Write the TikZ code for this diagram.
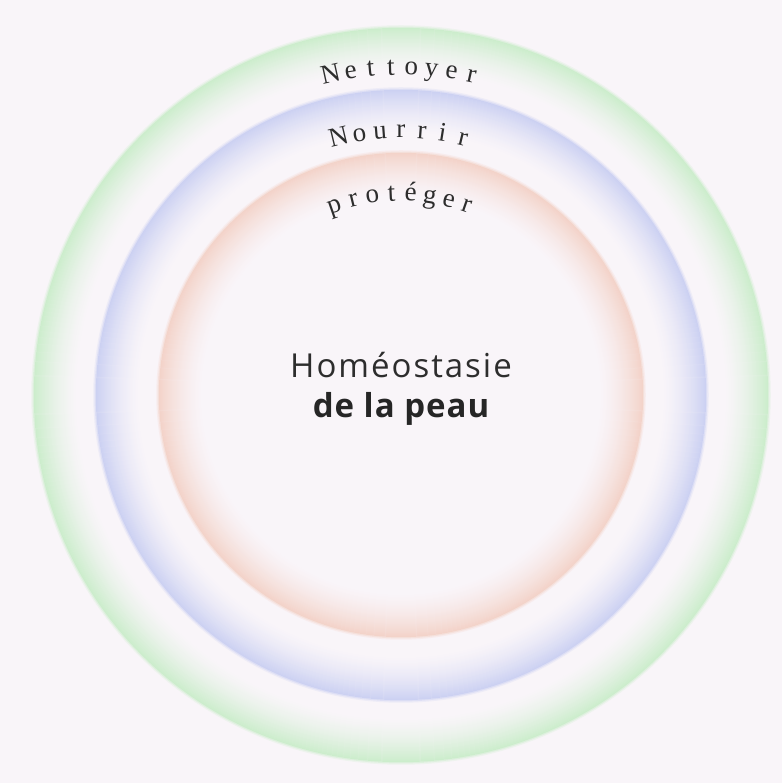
\documentclass[tikz,border=0pt]{standalone}
\usepackage{fontspec}
\setmainfont{Open Sans}
\newfontfamily\arcfont{Liberation Serif}
\usetikzlibrary{calc}
\definecolor{bg}{RGB}{249,245,249}
\definecolor{ringgreen}{RGB}{204,237,204}
\definecolor{ringblue}{RGB}{204,209,242}
\definecolor{ringred}{RGB}{243,211,201}
\definecolor{txt}{RGB}{45,45,45}
\begin{document}
\begin{tikzpicture}[x=1pt,y=1pt,
  arcletter/.style={inner sep=0pt, anchor=base, text=txt, font=\arcfont\fontsize{27}{30}\selectfont},
  maintext/.style={inner sep=0pt, anchor=base, text=txt, font=\addfontfeatures{LetterSpace=6}\fontsize{33}{38}\selectfont},
  boldtext/.style={inner sep=0pt, anchor=base, text=black!85, font=\bfseries\addfontfeatures{LetterSpace=3}\fontsize{33}{38}\selectfont}]
\fill[bg] (0,0) rectangle (782,783);
\useasboundingbox (0,0) rectangle (782,783);
\coordinate (c) at (401,388);
% soft gradient rings: colour at the outer edge, fading inward
\foreach \R/\col in {367/ringgreen, 305/ringblue, 242/ringred} {
  \fill[bg] (c) circle[radius=\R+3];
  \draw[\col!25!bg, line width=1.5pt] (c) circle[radius=\R+2];
  \draw[\col!60!bg, line width=1.5pt] (c) circle[radius=\R+0.7];
  \foreach \k in {0,...,44} {
    \pgfmathtruncatemacro\p{100*(1-\k/45)^1.5}
    \draw[\col!\p!bg, line width=1.4pt] (c) circle[radius=\R-0.5-\k];
  }
}
% curved labels
\foreach \ch [count=\i] in {N,e,t,t,o,y,e,r} {
  \pgfmathsetmacro\ang{12.4-(\i-1)*3.55}
  \node[arcletter, rotate=\ang] (net\i) at ($(c)+(90+\ang:320)$) {\ch};
}
\foreach \ch [count=\i] in {N,o,u,r,r,i,r} {
  \pgfmathsetmacro\ang{13.6-(\i-1)*4.53}
  \node[arcletter, rotate=\ang] (nou\i) at ($(c)+(90+\ang:257)$) {\ch};
}
\foreach \ch [count=\i] in {p,r,o,t,é,g,e,r} {
  \pgfmathsetmacro\ang{19.2-(\i-1)*5.49}
  \node[arcletter, rotate=\ang] (pro\i) at ($(c)+(90+\ang:194)$) {\ch};
}
\node[maintext] (homeo) at (401,405) {Homéostasie};
\node[boldtext] (peau) at (401,365) {de la peau};
\end{tikzpicture}
\end{document}
